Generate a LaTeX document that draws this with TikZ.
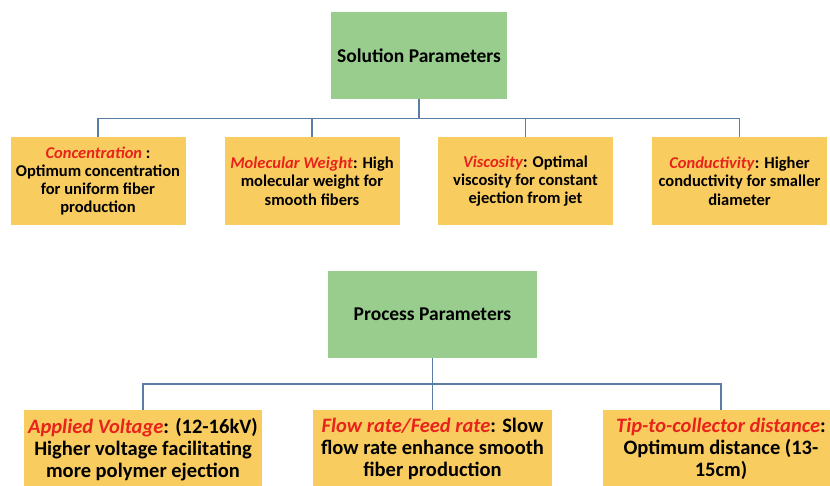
\documentclass[tikz,border=0pt]{standalone}
\usepackage{fontspec}
\setmainfont{Carlito}
\definecolor{boxgreen}{HTML}{98CD8E}
\definecolor{boxyellow}{HTML}{F9CC60}
\definecolor{linkblue}{HTML}{5B7DA5}
\definecolor{keyred}{HTML}{E8231B}
\newcommand{\kw}[1]{\textcolor{keyred}{\textit{#1}}}
\tikzset{
  titlebox/.style={fill=boxgreen, draw=none, inner sep=0pt, align=center, font=\bfseries\fontsize{19.5}{22}\selectfont},
  smallbox/.style={fill=boxyellow, draw=none, inner sep=0pt, minimum width=175pt, minimum height=88pt, align=center, font=\bfseries\fontsize{16.5}{18.3}\selectfont},
  bigbox/.style={fill=boxyellow, draw=none, inner xsep=0pt, inner ysep=8.5pt, anchor=north, align=center, font=\bfseries\fontsize{20.5}{22.2}\selectfont},
  link/.style={draw=linkblue, line width=1.4pt}
}
\begin{document}
\begin{tikzpicture}[x=1pt,y=-1pt]
\useasboundingbox (0,0) rectangle (830,486);
\clip (0,0) rectangle (830,486);
\fill[white] (0,0) rectangle (830,486);
% Solution parameters
\node[titlebox, minimum width=176pt, minimum height=87pt] (sol) at (419,55.5) {Solution Parameters};
\node[smallbox] (conc) at (98,181) {\kw{Concentration} :\\Optimum concentration\\for uniform fiber\\production};
\node[smallbox] (mol) at (312,181) {\kw{Molecular Weight}: High\\molecular weight for\\smooth fibers};
\node[smallbox] (visc) at (525.5,181) {\kw{Viscosity}: Optimal\\viscosity for constant\\ejection from jet};
\node[smallbox] (cond) at (739.5,181) {\kw{Conductivity}: Higher\\conductivity for smaller\\diameter};
\coordinate (sj) at (419,118.5);
\draw[link] (sol.south) -- (sj);
\draw[link] (conc.north) |- (sj) -| (cond.north);
\draw[link] (mol.north) -- (mol.north |- sj);
\draw[link] (visc.north) -- (visc.north |- sj);
% Process parameters
\node[titlebox, minimum width=209pt, minimum height=87pt] (proc) at (432.5,314.5) {Process Parameters};
\node[bigbox, minimum width=238pt] (volt) at (143,409.5) {\kw{Applied Voltage}: (12-16kV)\\Higher voltage facilitating\\more polymer ejection};
\node[bigbox, minimum width=239pt] (flow) at (432.5,409.5) {\kw{Flow rate/Feed rate}: Slow\\flow rate enhance smooth\\fiber production};
\node[bigbox, minimum width=236pt] (tip) at (721,409.5) {\kw{Tip-to-collector distance}:\\Optimum distance (13-\\15cm)};
\coordinate (pj) at (432.5,384);
\draw[link] (proc.south) -- (pj);
\draw[link] (volt.north) |- (pj) -| (tip.north);
\draw[link] (flow.north) -- (flow.north |- pj);
\end{tikzpicture}
\end{document}
